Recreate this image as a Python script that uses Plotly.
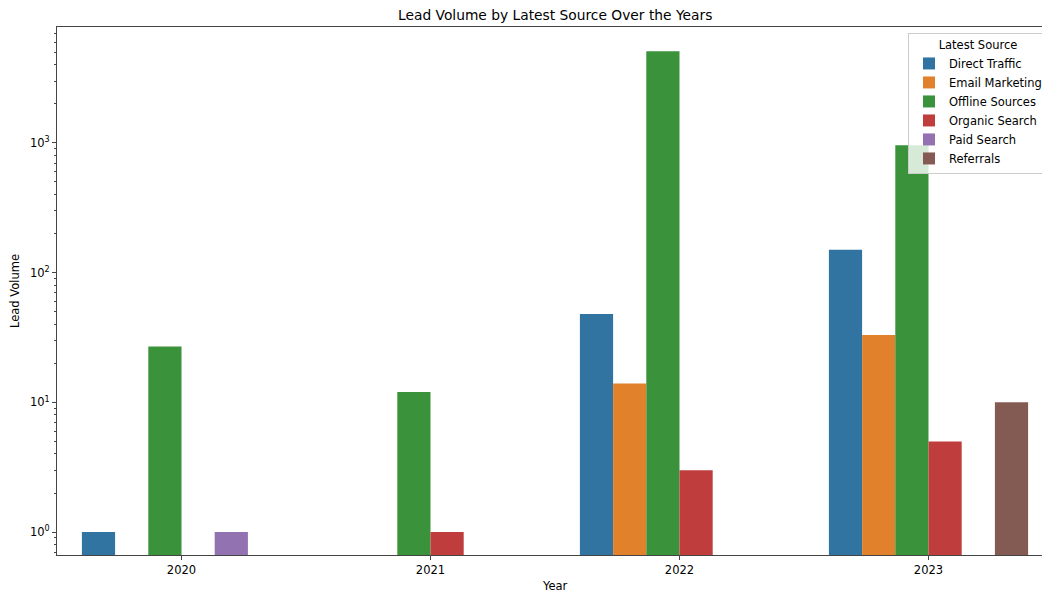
import plotly.graph_objects as go

years = ["2020", "2021", "2022", "2023"]
sources = ["Direct Traffic", "Email Marketing", "Offline Sources",
           "Organic Search", "Paid Search", "Referrals"]
direct_traffic = [1, None, 48, 150]
email_marketing = [None, None, 14, 33]
offline_sources = [27, 12, 5100, 960]
organic_search = [None, 1, 3, 5]
paid_search = [1, None, None, None]
referrals = [None, None, None, 10]
series = [direct_traffic, email_marketing, offline_sources,
          organic_search, paid_search, referrals]
colors = ["#3274a1", "#e1812c", "#3a923a", "#c03d3e", "#9372b2", "#845b53"]
ytick_vals = [1, 10, 100, 1000]
ytick_text = ["10<sup>0</sup>", "10<sup>1</sup>", "10<sup>2</sup>", "10<sup>3</sup>"]

W, H = 1042, 594
L, R, T, B = 57, 1042, 27, 555

# minor log tick positions (2..9 within each decade)
minor_vals = [m * 10 ** e for e in range(-1, 4) for m in range(2, 10)
              if 0.66 < m * 10 ** e < 7800]

fig = go.Figure()
for name, vals, col in zip(sources, series, colors):
    fig.add_trace(go.Bar(x=years, y=vals, name=name,
                         marker=dict(color=col, line=dict(width=0))))


def px2paper(x, y):
    return (x - L) / (R - L), (B - y) / (B - T)


font = "DejaVu Sans, Verdana, sans-serif"
tx, ty = px2paper(555, 15)
xx, xy = px2paper(555, 586)
yx, yy = px2paper(15, 291)
lx, ly = px2paper(908, 33)

fig.update_layout(
    width=W, height=H,
    margin=dict(l=L, r=W - R, t=T, b=H - B, autoexpand=False),
    plot_bgcolor="white", paper_bgcolor="white",
    barmode="group", bargap=0.2, bargroupgap=0,
    font=dict(family=font, size=11.5, color="black"),
    showlegend=True,
    legend=dict(
        title=dict(text="Latest Source", side="top center", font=dict(size=11.5)),
        x=lx, y=ly, xanchor="left", yanchor="top",
        bgcolor="rgba(255,255,255,0.8)", bordercolor="#cccccc", borderwidth=1,
        font=dict(size=11.5), tracegroupgap=0,
    ),
    xaxis=dict(
        type="category", range=[-0.5, -0.5 + (R - L) / 249.0],
        showline=True, linecolor="#444", linewidth=1, mirror=True,
        ticks="outside", ticklen=4, tickcolor="#444", showgrid=False,
        tickfont=dict(size=11.5),
    ),
    yaxis=dict(
        type="log", range=[-0.177, 3.894],
        tickmode="array", tickvals=ytick_vals, ticktext=ytick_text,
        showline=True, linecolor="#444", linewidth=1,
        ticks="outside", ticklen=4, tickcolor="#444", showgrid=False,
        zeroline=False, tickfont=dict(size=11.5),
        minor=dict(tickmode="array", tickvals=minor_vals, ticks="outside",
                   ticklen=2, tickcolor="#444", tickwidth=1, showgrid=False),
    ),
    annotations=[
        dict(text="Lead Volume by Latest Source Over the Years", x=tx, y=ty,
             xref="paper", yref="paper", xanchor="center", yanchor="middle",
             showarrow=False, font=dict(size=13.8)),
        dict(text="Year", x=xx, y=xy, xref="paper", yref="paper",
             xanchor="center", yanchor="middle",
             showarrow=False, font=dict(size=11.5)),
        dict(text="Lead Volume", x=yx, y=yy, xref="paper", yref="paper",
             xanchor="center", yanchor="middle",
             showarrow=False, textangle=-90, font=dict(size=11.5)),
    ],
)

fig.write_html("out.html")
